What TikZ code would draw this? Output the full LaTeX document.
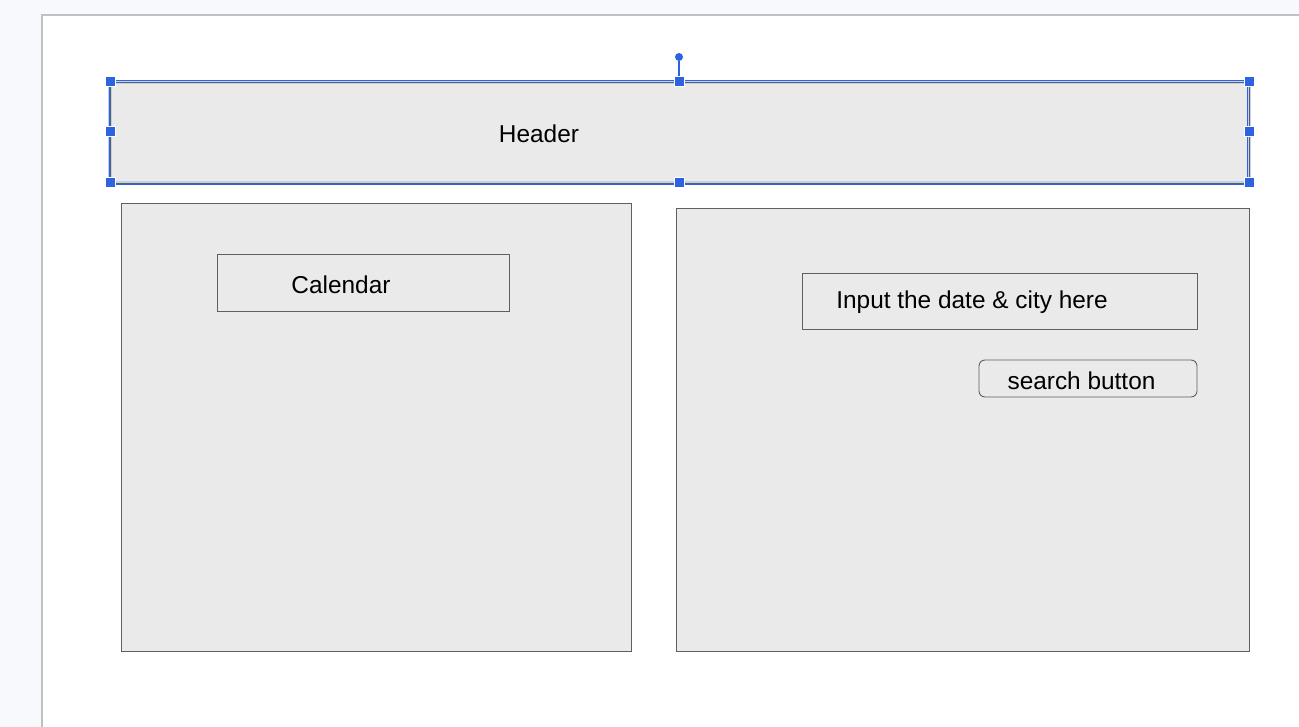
\documentclass[tikz,border=0pt]{standalone}
\usepackage{fontspec}
\setmainfont{Liberation Sans}
\usepackage{tikz}
\usetikzlibrary{calc}
\definecolor{canvas}{RGB}{248,249,252}
\definecolor{pageline}{RGB}{192,192,192}
\definecolor{boxfill}{RGB}{234,234,234}
\definecolor{boxline}{RGB}{95,95,95}
\definecolor{selblue}{RGB}{46,99,224}
\definecolor{selhalo}{RGB}{190,208,245}
\tikzset{
  panel/.style={fill=boxfill, draw=boxline, line width=0.45pt},
  field/.style={draw=boxline, line width=0.45pt},
  label/.style={font=\fontsize{12.2}{14}\selectfont, inner sep=0pt, anchor=center},
  handle/.style={fill=selblue, draw=white, line width=0.5pt, minimum size=5pt, inner sep=0pt},
}

\begin{document}
\begin{tikzpicture}[x=0.5pt, y=-0.5pt]
        \useasboundingbox (0,0) rectangle (1299,727);
        \fill[canvas] (0,0) rectangle (1299,727);
        \fill[white] (42,15) rectangle (1299,727);
        \draw[pageline, line width=0.6pt] (42,727) -- (42,15) -- (1299,15);
        % header
        \coordinate (hNW) at (110,82); \coordinate (hSE) at (1249,183);
        \fill[boxfill] (hNW) rectangle (hSE);
        \draw[selhalo, line width=2.4pt] (hNW) rectangle (hSE);
        \draw[boxline, line width=0.45pt] (hNW) rectangle (hSE);
        \draw[selblue, line width=0.7pt] ($(hNW)+(-0.5,-1.5)$) rectangle ($(hSE)+(-1.5,1.5)$);
        \node[label] (header) at (539,134) {Header};
        % selection handles
        \node[handle] (hTL) at (110,82) {}; \node[handle] (hTM) at (679,82) {}; \node[handle] (hTR) at (1249,82) {};
        \node[handle] (hML) at (110,132) {}; \node[handle] (hMR) at (1249,132) {};
        \node[handle] (hBL) at (110,183) {}; \node[handle] (hBM) at (679,183) {}; \node[handle] (hBR) at (1249,183) {};
        \node[circle, fill=selblue, minimum size=4pt, inner sep=0pt] (rot) at (679,57) {};
        \draw[selblue, line width=0.6pt] (rot) -- (hTM);
        % left panel
        \draw[panel] (121,203) rectangle (631,651);
        \draw[field] (217,254) rectangle (509,311);
        \node[label] (calendar) at (341,285) {Calendar};
        % right panel
        \draw[panel] (676,208) rectangle (1249,651);
        \draw[field] (802,273) rectangle (1197,329);
        \node[label] (input) at (972,302) {Input the date \& city here};
        \draw[field, rounded corners=3pt] (979,360) rectangle (1197,397);
        \node[label] (search) at (1081.5,381) {search button};
    \end{tikzpicture}
\end{document}
